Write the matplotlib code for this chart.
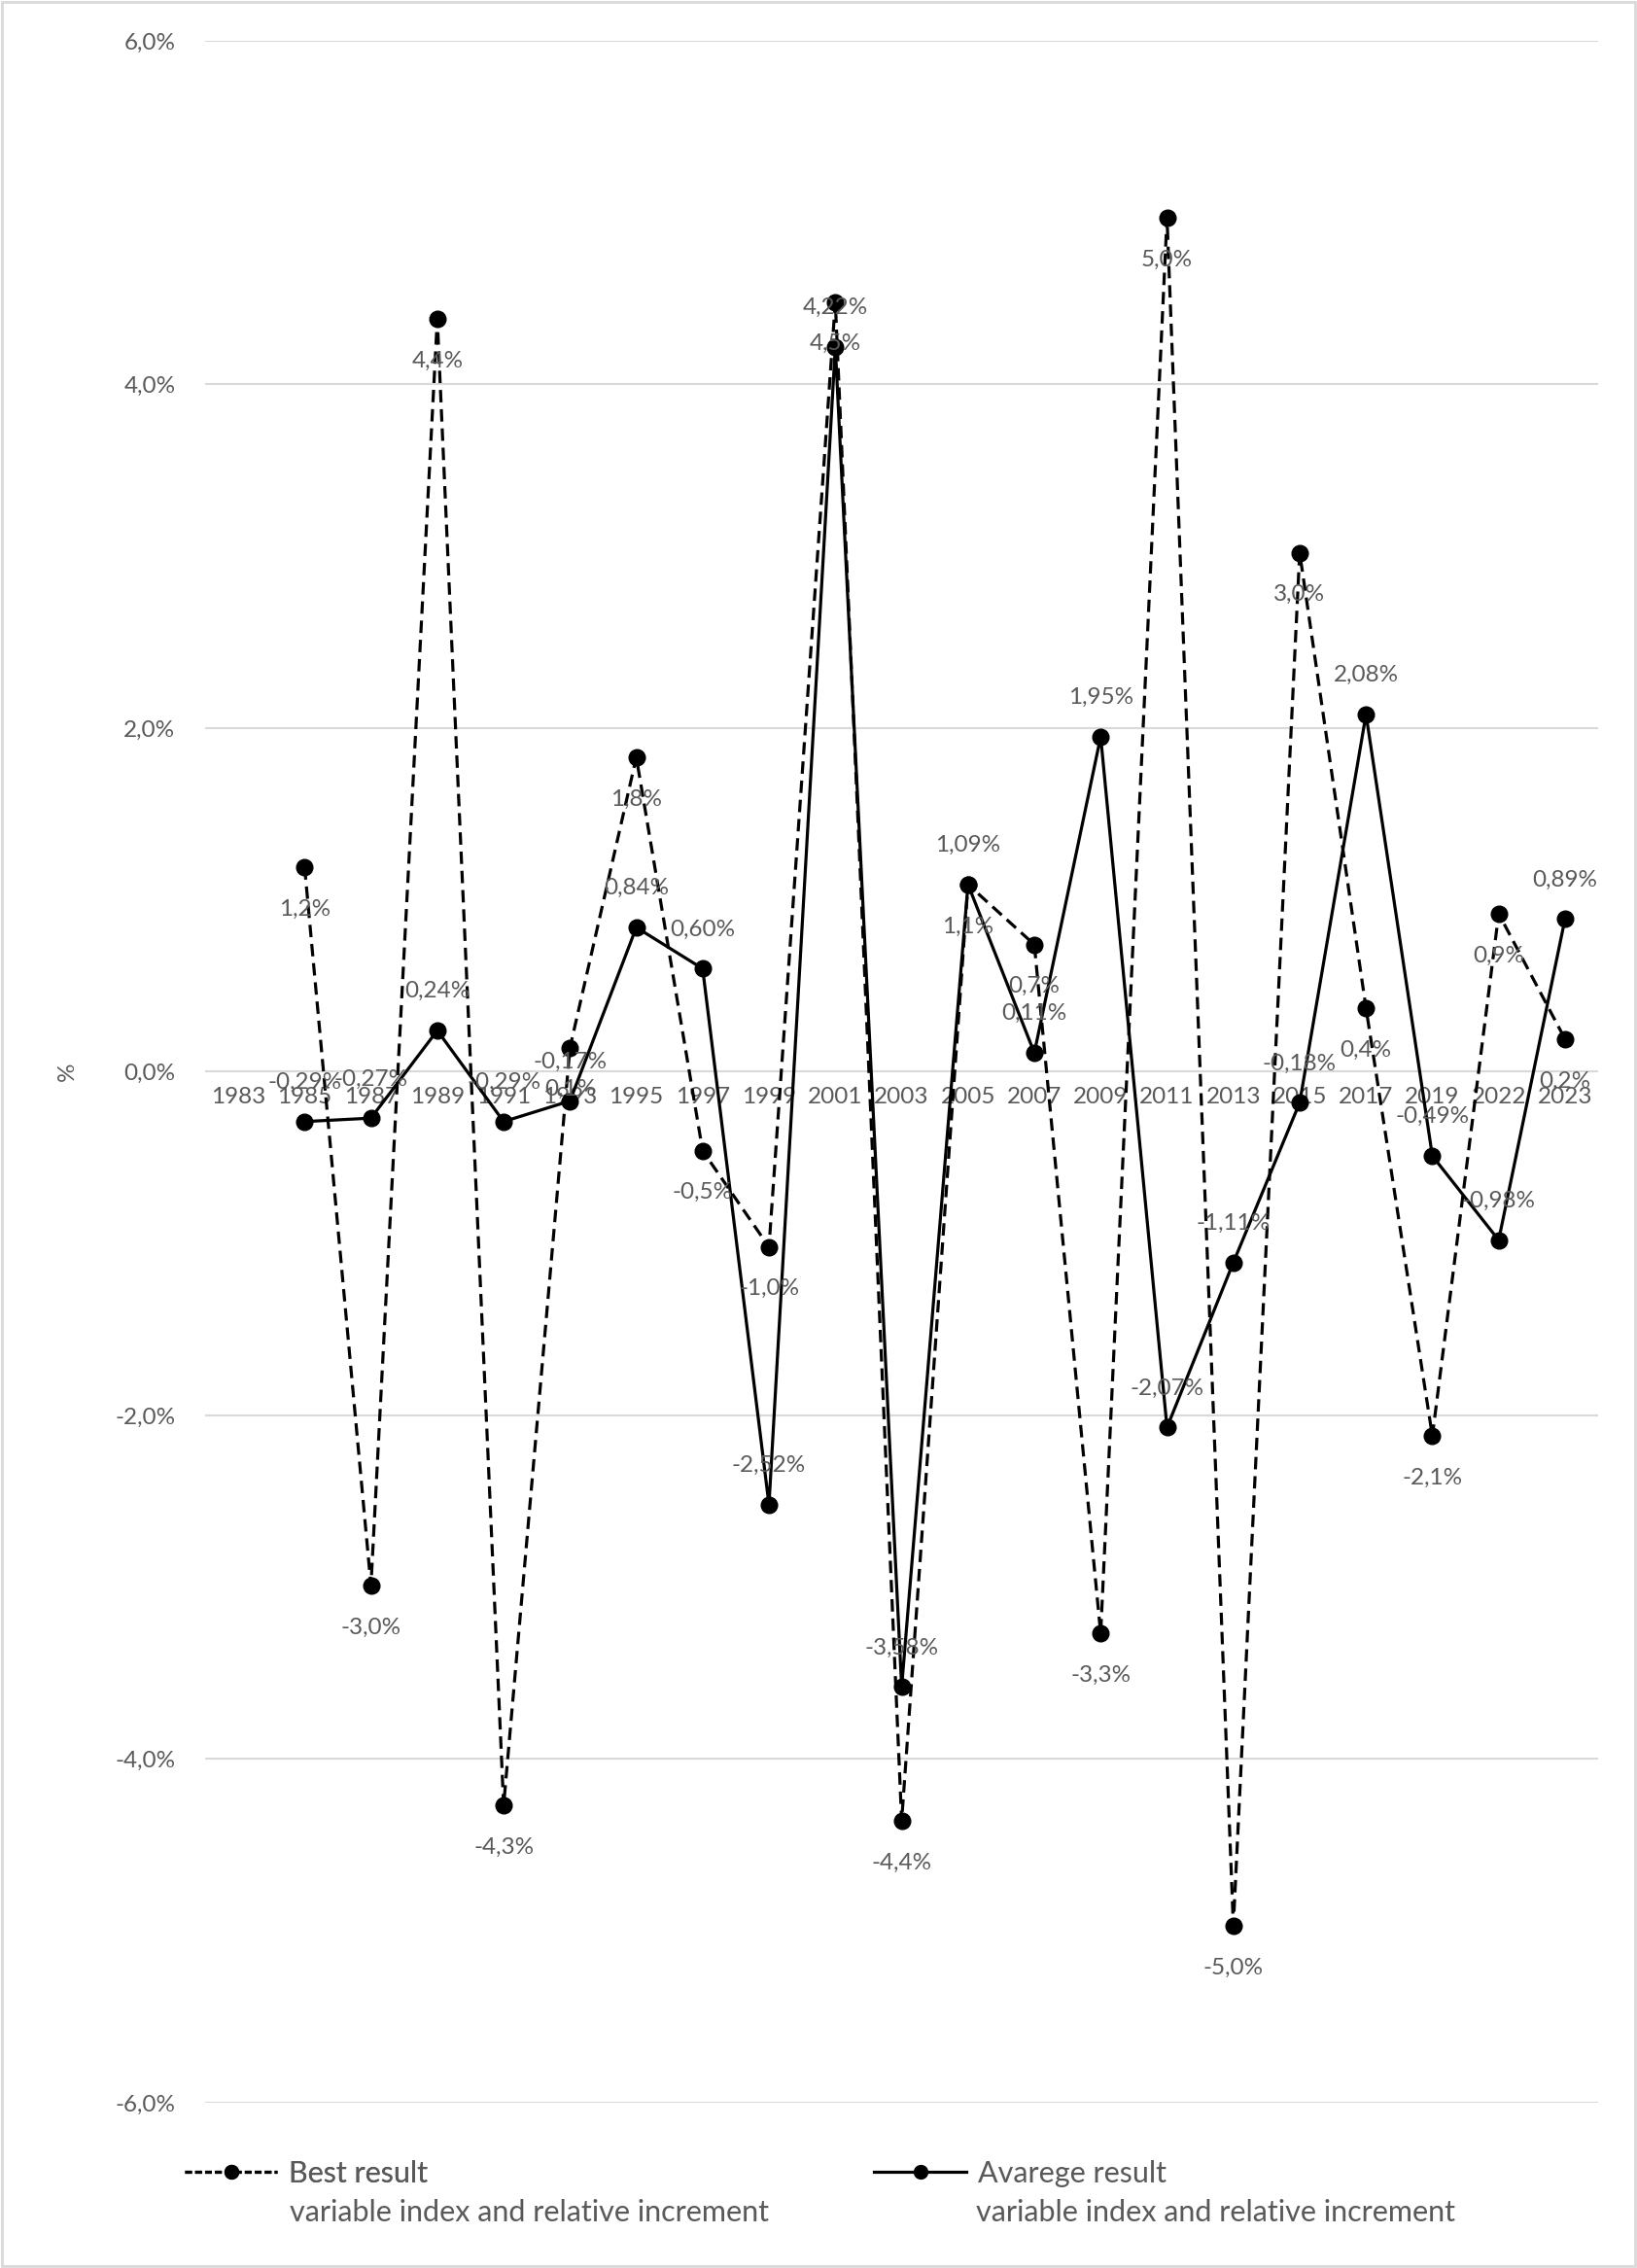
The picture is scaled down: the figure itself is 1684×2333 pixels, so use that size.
import numpy as np
import matplotlib
matplotlib.use("Agg")
import matplotlib.pyplot as plt
from matplotlib.lines import Line2D
from matplotlib.patches import Rectangle

years = ["1983", "1985", "1987", "1989", "1991", "1993", "1995", "1997", "1999", "2001",
         "2003", "2005", "2007", "2009", "2011", "2013", "2015", "2017", "2019", "2022", "2023"]
best = [np.nan, 1.19, -2.99, 4.38, -4.27, 0.14, 1.83, -0.46, -1.02, 4.48,
        -4.36, 1.09, 0.74, -3.27, 4.97, -4.97, 3.02, 0.37, -2.12, 0.92, 0.19]
avg = [np.nan, -0.29, -0.27, 0.24, -0.29, -0.17, 0.84, 0.60, -2.52, 4.22,
       -3.58, 1.09, 0.11, 1.95, -2.07, -1.11, -0.18, 2.08, -0.49, -0.98, 0.89]
yticks = [-6, -4, -2, 0, 2, 4, 6]

FONT = ["Lato", "DejaVu Sans"]
GREY = "#595959"
plt.rcParams["font.family"] = FONT

fig = plt.figure(figsize=(16.84, 23.33), dpi=100)
ax = fig.add_axes([0.1253, 0.0729, 0.8510, 0.9091])

x = np.arange(len(years))
ax.plot(x, best, color="black", lw=2.3, ls=(0, (4, 2.2)), marker="o", ms=12, zorder=3)
ax.plot(x, avg, color="black", lw=2.3, ls="-", marker="o", ms=12, zorder=4)

fs = 17.5
lfs = 22
for xi, v in zip(x, best):
    if np.isnan(v):
        continue
    ax.annotate(f"{v:.1f}%".replace(".", ","), (xi, v), xytext=(0, -31),
                textcoords="offset points", ha="center", va="center",
                fontsize=fs, color=GREY, zorder=5)
for xi, v in zip(x, avg):
    if np.isnan(v):
        continue
    ax.annotate(f"{v:.2f}%".replace(".", ","), (xi, v), xytext=(0, 29),
                textcoords="offset points", ha="center", va="center",
                fontsize=fs, color=GREY, zorder=5)

ax.set_xlim(-0.5, len(years) - 0.5)
ax.set_ylim(-6, 6)
ax.spines["bottom"].set_position(("data", 0))
ax.set_yticks(yticks)
ax.set_yticklabels([f"{t:.1f}%".replace(".", ",") for t in yticks])
ax.tick_params(axis="y", length=0, pad=22, labelsize=fs, labelcolor=GREY)
ax.yaxis.grid(True, color="#d9d9d9", lw=1.5)
ax.set_axisbelow(True)

ax.set_xticks(x)
ax.set_xticklabels(years)
ax.tick_params(axis="x", length=0, pad=11, labelsize=fs, labelcolor=GREY)
for s in ["top", "right", "left", "bottom"]:
    ax.spines[s].set_visible(False)

ax.set_ylabel("%", fontsize=fs, color=GREY, labelpad=28)

# legend
h1 = Line2D([], [], color="black", lw=2.3, ls=(0, (2.2, 1.0)), marker="o", ms=10)
h2 = Line2D([], [], color="black", lw=2.3, ls="-", marker="o", ms=10)
leg1 = fig.legend([h1], ["Best result"], loc="center left", bbox_to_anchor=(0.113, 0.0415),
                  frameon=False, handlelength=3.1, handletextpad=0.38, fontsize=lfs,
                  labelcolor=GREY, borderpad=0, borderaxespad=0)
leg2 = fig.legend([h2], ["Avarege result"], loc="center left", bbox_to_anchor=(0.534, 0.0415),
                  frameon=False, handlelength=3.1, handletextpad=0.38, fontsize=lfs,
                  labelcolor=GREY, borderpad=0, borderaxespad=0)
fig.add_artist(leg1)
fig.text(0.177, 0.0244, "variable index and relative increment", fontsize=lfs, color=GREY,
         ha="left", va="center")
fig.text(0.596, 0.0244, "variable index and relative increment", fontsize=lfs, color=GREY,
         ha="left", va="center")

fig.add_artist(Rectangle((0.001, 0.001), 0.998, 0.998, transform=fig.transFigure,
                         fill=False, edgecolor="#d9d9d9", lw=2))

fig.savefig("out.png", dpi=100)
